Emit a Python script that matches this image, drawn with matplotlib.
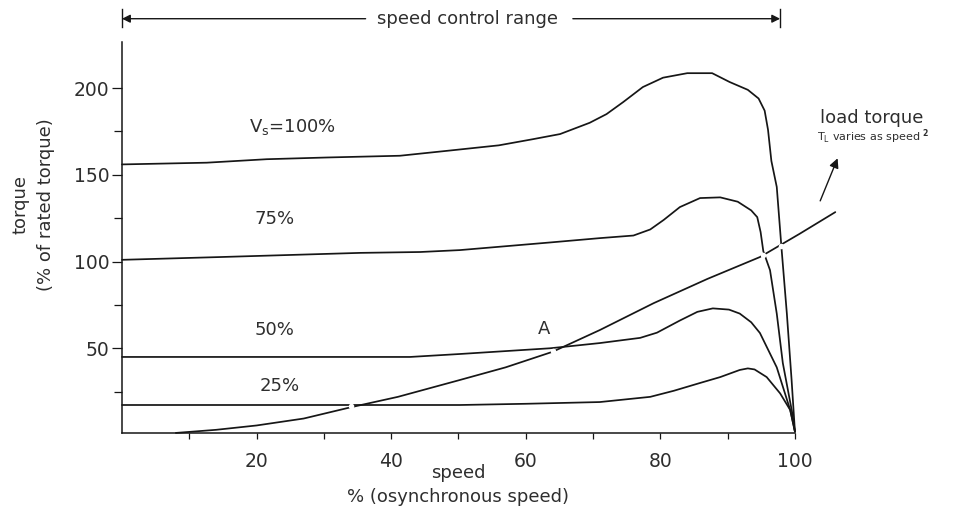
import matplotlib
matplotlib.use("Agg")
import matplotlib.pyplot as plt

plt.rcParams['font.family'] = ['DejaVu Sans']

# ---- data (speed %, torque %) ----
v100_x = [0, 12.6, 21.5, 30.5, 41.3, 48.7, 56, 61, 65.1, 69.5, 72, 74.5, 77.4, 80.4, 84, 87.7, 90.3, 93.0, 94.6, 95.5, 96.0, 96.5, 97.3, 98.0, 98.8, 99.5, 100]
v100_y = [156, 157, 159, 160, 161, 164, 167, 170.5, 173.5, 180, 185, 192, 200.6, 206, 208.6, 208.6, 203.5, 199, 194, 187, 176, 158, 143, 108, 70, 32, 2]

v75_x = [0, 14.6, 35.4, 44.3, 50.2, 63.6, 71, 76, 78.5, 80.5, 82.9, 85.9, 88.9, 91.5, 93.5, 94.4, 94.9, 95.3, 96.3, 97.3, 98.2, 99.6, 100]
v75_y = [101, 102.6, 105, 105.5, 106.6, 111, 113.5, 115, 118.5, 124, 131.4, 136.6, 137, 134.5, 129.5, 125.6, 117, 106, 95, 70, 41.5, 12.7, 2]

v50_x = [0, 42.8, 50.2, 63.6, 71, 77, 79.5, 82.9, 85.5, 87.8, 90.2, 91.8, 93.5, 94.8, 97.3, 99.3, 100]
v50_y = [45, 45, 46.7, 50, 53, 56, 59, 66, 71, 73, 72.3, 70, 65, 58.8, 39, 14.4, 2]

v25_x = [0, 50.2, 60, 71, 78.5, 82, 85.9, 88.9, 91.8, 93.0, 94.0, 95.8, 97.8, 99.3, 100]
v25_y = [17.3, 17.3, 18, 19, 22, 25.5, 30, 33.4, 37.5, 38.4, 37.8, 33.4, 24, 14.4, 2]

load_x = [8, 14, 20, 27, 34, 41, 50, 57, 64, 71, 79, 87, 94.8, 100.7, 106]
load_y = [1.2, 3, 5.5, 9.5, 16, 22, 31.5, 39, 48, 60.5, 76, 90, 102.6, 116, 128.5]

# intersection points (motor curve meets load curve)
cross_x = [34, 64, 95.3, 98.0]
cross_y = [16.5, 48.5, 104, 109]

curve_labels = ["V$_{\\mathregular{s}}$=100%", "75%", "50%", "25%"]
label_x = [25.3, 22.7, 22.7, 23.5]
label_y = [177.5, 124.5, 60.5, 28]

x_major = [20, 40, 60, 80, 100]
x_minor = [10, 30, 50, 70, 90]
y_major = [50, 100, 150, 200]
y_minor = [25, 75, 125, 175]

ink = "#161616"
txt = "#2e2e2e"

fig = plt.figure(figsize=(9.54, 5.15), dpi=100)
ax = fig.add_axes([0.1279, 0.1592, 0.790, 0.759])

for xs, ys in [(v100_x, v100_y), (v75_x, v75_y), (v50_x, v50_y), (v25_x, v25_y), (load_x, load_y)]:
    ax.plot(xs, ys, color=ink, lw=1.25, solid_joinstyle='round', solid_capstyle='round', clip_on=False, zorder=2)

ax.plot(cross_x, cross_y, 'o', color='white', ms=4, mec='none', zorder=3, clip_on=False)

ax.set_xlim(0, 112)
ax.set_ylim(1.15, 226.5)

for s in ['top', 'right']:
    ax.spines[s].set_visible(False)
ax.spines['bottom'].set_bounds(0, 100)
for s in ['left', 'bottom']:
    ax.spines[s].set_color(ink)
    ax.spines[s].set_linewidth(1.1)

ax.set_xticks(x_major)
ax.set_xticks(x_minor, minor=True)
ax.set_yticks(y_major)
ax.set_yticks(y_minor, minor=True)
ax.tick_params(axis='both', which='both', direction='out', colors=ink, labelcolor=txt, width=0.9)
ax.tick_params(axis='y', which='major', length=7, labelsize=13.5, pad=2)
ax.tick_params(axis='y', which='minor', length=6)
ax.tick_params(axis='x', which='both', length=4, labelsize=13.5, pad=10)

for t, xx, yy in zip(curve_labels, label_x, label_y):
    ax.text(xx, yy, t, ha='center', va='center', fontsize=13, color=txt)
ax.text(62.7, 61, "A", ha='center', va='center', fontsize=13, color=txt)

# load torque annotation
ax.text(111.4, 183, "load torque", ha='center', va='center', fontsize=13, color=txt, clip_on=False)
ax.text(111.6, 172, "T$_{\\mathregular{L}}$ varies as speed $^{\\mathbf{2}}$", ha='center', va='center',
        fontsize=8, color=txt, clip_on=False)
ax.annotate("", xy=(106.5, 161), xytext=(103.6, 133.5),
            arrowprops=dict(arrowstyle='-|>', color=ink, lw=1.0, mutation_scale=14),
            annotation_clip=False)

# speed control range
ytop = 240
ax.text(51.3, ytop, "speed control range", ha='center', va='center', fontsize=13, color=txt, clip_on=False)
ax.annotate("", xy=(0, ytop), xytext=(36.2, ytop),
            arrowprops=dict(arrowstyle='-|>', color=ink, lw=1.0, mutation_scale=12, shrinkA=0, shrinkB=0),
            annotation_clip=False)
ax.annotate("", xy=(97.8, ytop), xytext=(67.0, ytop),
            arrowprops=dict(arrowstyle='-|>', color=ink, lw=1.0, mutation_scale=12, shrinkA=0, shrinkB=0),
            annotation_clip=False)
ax.plot([0, 0], [235, 245.5], color=ink, lw=1.0, clip_on=False)
ax.plot([97.8, 97.8], [235, 245.5], color=ink, lw=1.0, clip_on=False)

# axis titles
fig.text(458 / 954, 1 - 473 / 515, "speed", ha='center', va='center', fontsize=13, color=txt)
fig.text(458 / 954, 1 - 497 / 515, "% (osynchronous speed)", ha='center', va='center', fontsize=13, color=txt)
fig.text(21 / 954, 1 - 205 / 515, "torque", ha='center', va='center', rotation=90, fontsize=13, color=txt)
fig.text(46 / 954, 1 - 205 / 515, "(% of rated torque)", ha='center', va='center', rotation=90, fontsize=13, color=txt)

fig.savefig("out.png", dpi=100, facecolor='white')
